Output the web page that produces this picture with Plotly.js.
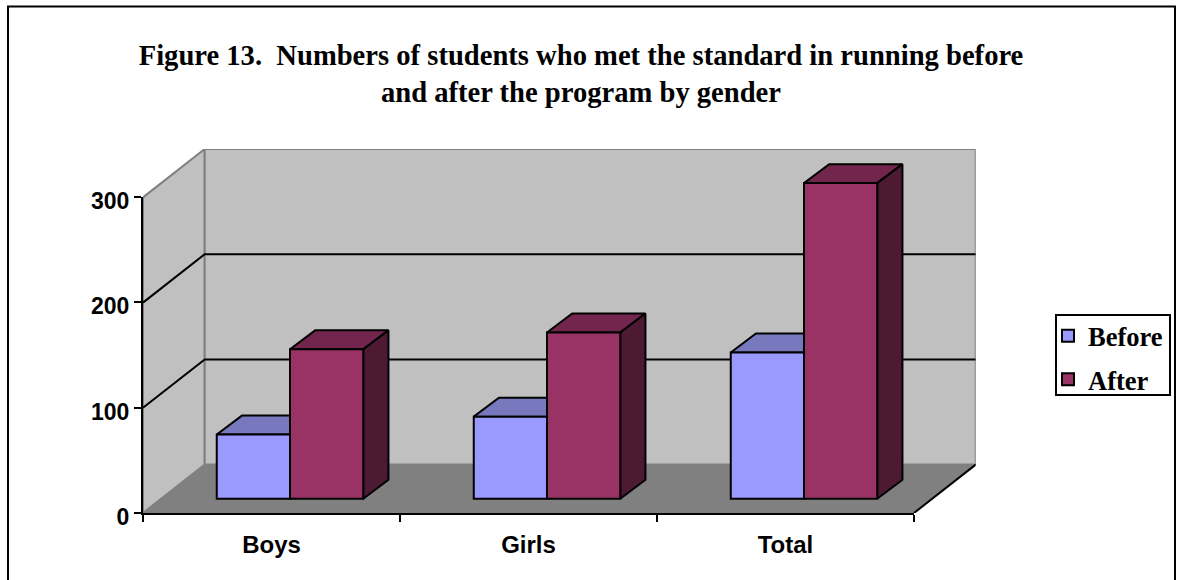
<!DOCTYPE html>
<html>
<head>
<meta charset="utf-8">
<script src="https://cdn.plot.ly/plotly-3.0.1.min.js"></script>
<style>html,body{margin:0;padding:0;background:#fff}#chart{width:1178px;height:580px}</style>
</head>
<body>
<div id="chart"></div>
<script>
// ---- data ----
const categories = ["Boys", "Girls", "Total"];
const beforeValues = [61, 78, 139];
const afterValues = [142, 158, 300];
const tickValues = [0, 100, 200, 300];
const gridValues = [100, 200];
const titleLine1 = "Figure 13.\u00a0\u00a0Numbers of students who met the standard in running before";
const titleLine2 = "and after the program by gender";

// ---- page geometry (px) ----
const W = 1178, H = 580;
const fx = px => px / W, fy = px => 1 - px / H;
const frontLeft = 143, frontRight = 914, backRight = 975.7;
const floorFront = 513, top300 = 197, backTop = 149;

// ---- pseudo-3D geometry, in data units ----
const wallDx = (backRight - frontRight) / ((frontRight - frontLeft) / 3);
const wallDy = 46;
const barGap = 0.43;
const barW = (1 - barGap) / 2;
const shiftX = 0.072, shiftY = 13.6;   // bars stand this far inside the floor
const depthX = 0.098, depthY = 18;     // bar depth
const xMin = -0.5, xMax = 2.5;
const grid = "#808080";

function poly(xs, ys, fill, line, w) {
  return {type: "scatter", mode: "lines", x: xs, y: ys, fill: "toself", fillcolor: fill,
    line: {color: line, width: w}, showlegend: false, hoverinfo: "skip", cliponaxis: false,
    xaxis: "x", yaxis: "y"};
}
function seg(xs, ys, color, w) {
  return {type: "scatter", mode: "lines", x: xs, y: ys, line: {color: color, width: w},
    showlegend: false, hoverinfo: "skip", cliponaxis: false, xaxis: "x", yaxis: "y"};
}

const traces = [];
// walls and floor
traces.push(poly([xMin, xMin + wallDx, xMin + wallDx, xMin, xMin],
                 [0, wallDy, 300 + wallDy, 300, 0], "#c0c0c0", grid, 2));
traces.push(poly([xMin + wallDx, xMax + wallDx, xMax + wallDx, xMin + wallDx, xMin + wallDx],
                 [wallDy, wallDy, 300 + wallDy, 300 + wallDy, wallDy], "#c0c0c0", grid, 2));
traces.push(poly([xMin, xMax, xMax + wallDx, xMin + wallDx, xMin],
                 [0, 0, wallDy, wallDy, 0], "#808080", grid, 1));
traces.push(seg([xMax, xMax + wallDx], [0, wallDy], "#000000", 2));
// gridlines
gridValues.forEach(v => traces.push(seg([xMin, xMin + wallDx, xMax + wallDx],
                                        [v, v + wallDy, v + wallDy], "#000000", 2)));
// bar tops and sides
function barFaces(values, slot, topColor, sideColor) {
  values.forEach((v, i) => {
    const l = i + shiftX + (slot - 1) * barW, r = l + barW;
    const b = shiftY, t = v + shiftY;
    traces.push(poly([l, l + depthX, r + depthX, r, l],
                     [t, t + depthY, t + depthY, t, t], topColor, "#000000", 2));
    traces.push(poly([r, r + depthX, r + depthX, r, r],
                     [b, b + depthY, t + depthY, t, b], sideColor, "#000000", 2));
  });
}
barFaces(beforeValues, 0, "#7878BF", "#4D4D80");
barFaces(afterValues, 1, "#73264D", "#4C1A33");
// bar fronts
traces.push({type: "bar", name: "Before", legendgroup: "before", x: categories, y: beforeValues, xaxis: "x2", yaxis: "y2",
  marker: {color: "#9999FF", line: {color: "#000000", width: 2}}, hoverinfo: "skip"});
traces.push({type: "bar", name: "After", legendgroup: "after", x: categories, y: afterValues, xaxis: "x2", yaxis: "y2",
  marker: {color: "#993366", line: {color: "#000000", width: 2}}, hoverinfo: "skip"});
// carrier of the visible axes
traces.push({type: "scatter", mode: "markers", x: categories, y: [0, 0, 0], xaxis: "x3", yaxis: "y3",
  marker: {opacity: 0, size: 1}, showlegend: false, hoverinfo: "skip"});

const hidden = {visible: false, showgrid: false, zeroline: false, fixedrange: true};
const yTickFont = {family: "Liberation Sans, Arial, sans-serif", size: 23, color: "#000000", weight: 700};
const xTickFont = {family: "Liberation Sans, Arial, sans-serif", size: 24, color: "#000000", weight: 700};
const wallDomX = [fx(frontLeft), fx(backRight)], wallDomY = [fy(floorFront), fy(backTop)];

const layout = {
  width: W, height: H, margin: {l: 0, r: 0, t: 0, b: 0, pad: 0},
  paper_bgcolor: "#ffffff", plot_bgcolor: "rgba(0,0,0,0)",
  barmode: "group", bargap: barGap, bargroupgap: 0,
  title: {
    text: titleLine1 + "<br>" + titleLine2,
    font: {family: "Liberation Serif, Times New Roman, serif", size: 28.6, color: "#000000", weight: 700},
    x: fx(581), xanchor: "center", xref: "paper",
    y: fy(65), yanchor: "middle", yref: "paper"
  },
  xaxis: Object.assign({}, hidden, {domain: wallDomX, range: [xMin, xMax + wallDx], anchor: "y"}),
  yaxis: Object.assign({}, hidden, {domain: wallDomY, range: [0, 300 + wallDy], anchor: "x"}),
  xaxis2: Object.assign({}, hidden, {domain: wallDomX, type: "category", categoryarray: categories,
    range: [xMin - shiftX, xMax + wallDx - shiftX], anchor: "y2"}),
  yaxis2: Object.assign({}, hidden, {domain: wallDomY, range: [-shiftY, 300 + wallDy - shiftY], anchor: "x2"}),
  xaxis3: {domain: [fx(frontLeft), fx(frontRight)], type: "category", categoryarray: categories,
    range: [xMin, xMax], anchor: "y3", fixedrange: true, showgrid: false, zeroline: false,
    showline: true, linecolor: "#000000", linewidth: 2,
    ticks: "outside", ticklen: 7, tickwidth: 2, tickcolor: "#000000", tickson: "boundaries",
    ticklabelstandoff: 9, tickfont: xTickFont},
  yaxis3: {domain: [fy(floorFront), fy(top300)], range: [0, 300], anchor: "x3", fixedrange: true,
    tickvals: tickValues, ticktext: tickValues.map(String), showgrid: false, zeroline: false,
    showline: true, linecolor: "#000000", linewidth: 2,
    ticks: "outside", ticklen: 7, tickwidth: 2, tickcolor: "#000000", tickfont: yTickFont,
    ticklabelshift: 4},
  showlegend: true,
  legend: {
    x: fx(1048), xanchor: "left", y: fy(312), yanchor: "top",
    bgcolor: "rgba(0,0,0,0)", borderwidth: 0,
    font: {family: "Liberation Serif, Times New Roman, serif", size: 26.5, color: "#000000", weight: 700},
    itemwidth: 30, traceorder: "grouped", tracegroupgap: 6
  },
  shapes: [
    {type: "rect", xref: "paper", yref: "paper", x0: fx(8), x1: fx(1175), y0: -0.05, y1: fy(6.5),
     line: {color: "#000000", width: 2}, fillcolor: "rgba(0,0,0,0)", layer: "below"},
    {type: "rect", xref: "paper", yref: "paper", x0: fx(1056), x1: fx(1170), y0: fy(395), y1: fy(315),
     line: {color: "#000000", width: 2}, fillcolor: "#ffffff", layer: "above"}
  ]
};

Plotly.newPlot("chart", traces, layout, {staticPlot: true, displayModeBar: false});
</script>
</body>
</html>
